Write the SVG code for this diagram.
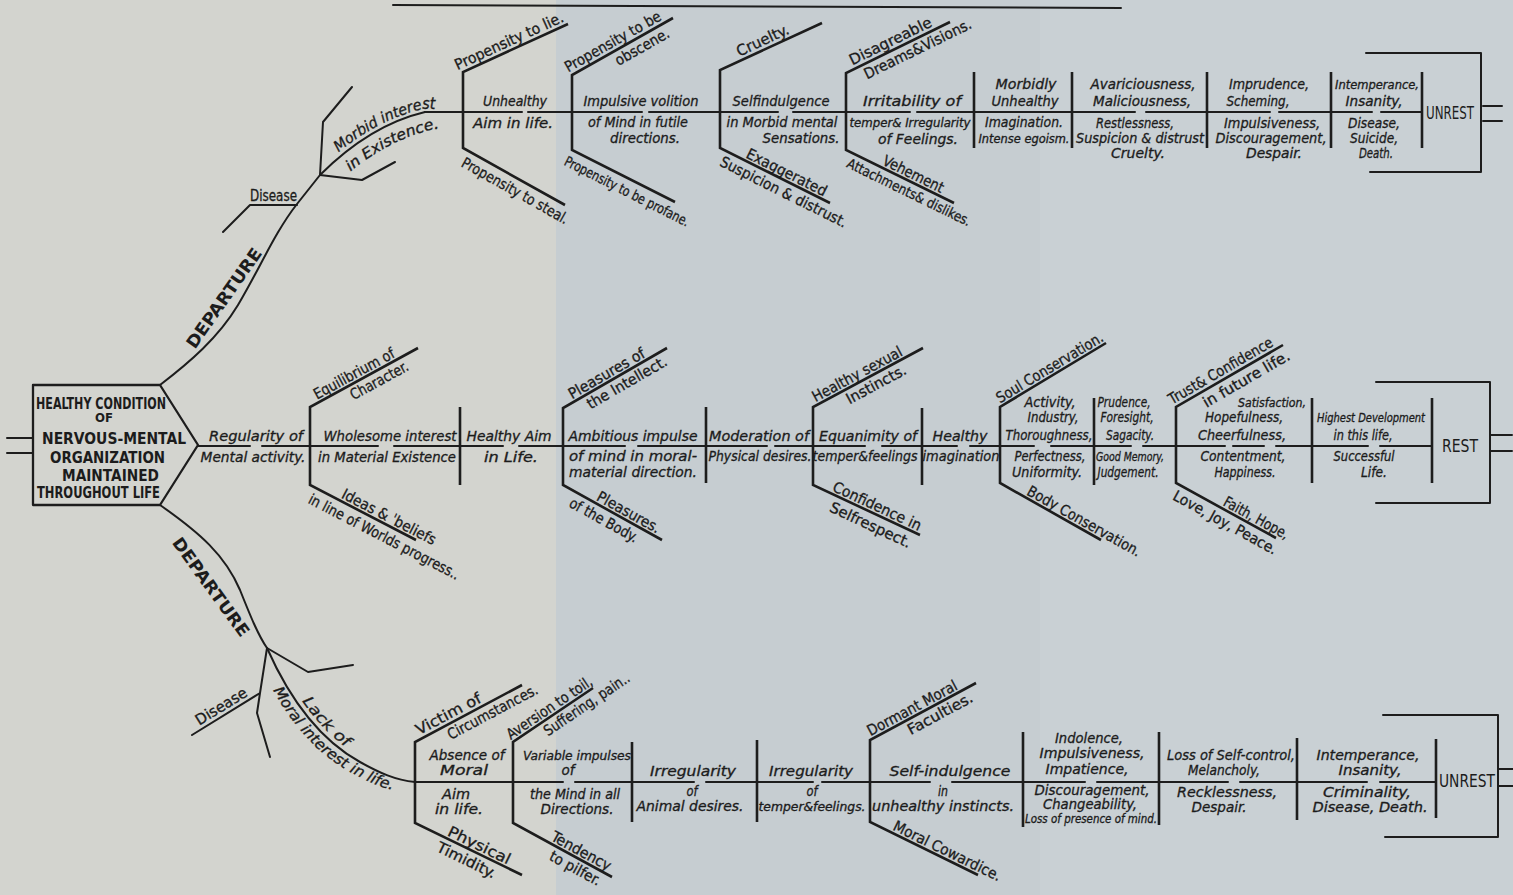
<svg xmlns="http://www.w3.org/2000/svg" width="1513" height="895" viewBox="0 0 1513 895">
<defs>
<style>
.ln{fill:none;stroke:#1d1d1d;stroke-width:2;stroke-linecap:round;stroke-linejoin:round}
.br{fill:none;stroke:#1d1d1d;stroke-width:2.6}
.t{font-family:"Liberation Sans Narrow","DejaVu Sans Condensed","Liberation Sans",Arial,sans-serif;fill:#1c1c1c;stroke:#1c1c1c;stroke-width:0.3}
.it{font-style:italic;font-size:14px}
.dg{font-size:15px}
.sm{font-size:12px}
.c{text-anchor:middle}
.bd{font-weight:bold}
</style>
<path id="pMorbidA" d="M320,169 Q368,122 423,109 L470,109"/>
<path id="pMorbidB" d="M331,189 Q379,142 434,129 L485,129"/>
<path id="pLackA" d="M271,645 C294,697 324,737 364,759 C384,770 399,777 419,779"/>
<path id="pLackB" d="M257,658 C280,710 310,750 350,772 C370,783 385,790 405,792"/>
</defs>
<rect width="1513" height="895" fill="#c6cdd1"/>
<rect x="1040" width="473" height="895" fill="#c9d0d4"/>
<rect width="556" height="895" fill="#d3d4cf"/>

<g id="connectors">
<path class="ln" d="M393,5 L1121,8"/>
<path class="ln" d="M7,438 L33,438 M7,453 L33,453"/>
<path class="ln" d="M160,385 C190,362 218,338 238,305 C260,268 275,232 297,204 L320,175"/>
<path class="ln" d="M320,175 L323,122 L352,87 M320,175 L362,180 L395,162 M297,205 L250,205 L223,232"/>
<path class="ln" d="M320,175 Q370,125 425,112"/>
<path class="ln" d="M160,505 C200,533 225,555 240,590 C250,615 258,635 267,648"/>
<path class="ln" d="M267,648 L308,672 L353,665 M267,648 L260,693 L257,713 L270,757 M260,693 L192,735"/>
<path class="ln" d="M267,648 C290,700 320,740 360,762 C380,773 395,780 415,782"/>
<path class="ln" d="M425,112 L522,112 M528,112 L642,112 M649,112 L778,112 M793,112 L910,112 M917,112 L1135,112 M1146,112 L1270,112 M1279,112 L1372,112 M1381,112 L1422,112"/>
<path class="ln" d="M198,446 L250,446 M262,446 L378,446 M394,446 L503,446 M519,446 L625,446 M638,446 L767,446 M775,446 L865,446 M882,446 L957,446 M970,446 L1034,446 M1051,446 L1131,446 M1143,446 L1225,446 M1233,446 L1264,446 M1276,446 L1368,446 M1380,446 L1432,446"/>
<path class="ln" d="M415,782 L563,782 M575,782 L694,782 M706,782 L813,782 M822,782 L930,782 M952,782 L1085,782 M1097,782 L1228,782 M1240,782 L1367,782 M1380,782 L1436,782"/>
<path class="br" d="M568,24 L463,72 L463,148 L565,205 M673,18 L572,75 L572,150 L675,202 M822,23 L720,70 L720,148 L830,203 M950,22 L846,73 L846,150 L954,203"/>
<path class="br" d="M418,348 L310,407 L310,485 L416,540 M667,348 L563,408 L563,485 L662,540 M923,348 L813,407 L813,485 L920,535 M1106,343 L1000,407 L1000,483 L1101,540 M1283,345 L1176,407 L1176,483 L1276,538"/>
<path class="br" d="M522,685 L415,742 L415,823 L522,875 M593,688 L513,742 L513,823 L612,877 M976,683 L870,740 L870,822 L978,875"/>
<path class="br" d="M974,72 L974,148 M1072,72 L1072,148 M1207,72 L1207,148 M1331,72 L1331,148 M1422,72 L1422,148"/>
<path class="br" d="M460,407 L460,485 M706,407 L706,483 M922,408 L922,485 M1094,398 L1094,485 M1312,398 L1312,483 M1432,398 L1432,483"/>
<path class="br" d="M632,742 L632,822 M757,740 L757,822 M1023,732 L1023,827 M1159,732 L1159,825 M1297,738 L1297,820 M1436,739 L1436,818"/>
<path class="ln" d="M1366,53 L1481,53 L1481,172 L1370,172 M1483,106 L1502,106 M1483,121 L1502,121"/>
<path class="ln" d="M1376,382 L1490,382 L1490,503 L1376,503 M1490,435 L1512,435 M1490,451 L1512,451"/>
<path class="ln" d="M1383,715 L1498,715 L1498,837 L1385,837 M1498,769 L1513,769 M1498,786 L1513,786"/>
</g>

<g id="origin">
<path class="ln" d="M33,385 L160,385 L198,445 L160,505 L33,505 Z" style="stroke-width:2.3"/>
<g class="t bd" style="font-size:15px;stroke-width:0">
<text x="36" y="409" textLength="130" lengthAdjust="spacingAndGlyphs">HEALTHY CONDITION</text>
<text x="104" y="422" class="c" style="font-size:12px" textLength="18" lengthAdjust="spacingAndGlyphs">OF</text>
<text x="42" y="444" textLength="144" lengthAdjust="spacingAndGlyphs">NERVOUS-MENTAL</text>
<text x="50" y="463" textLength="115" lengthAdjust="spacingAndGlyphs">ORGANIZATION</text>
<text x="62" y="481" textLength="97" lengthAdjust="spacingAndGlyphs">MAINTAINED</text>
<text x="37" y="498" textLength="123" lengthAdjust="spacingAndGlyphs">THROUGHOUT LIFE</text>
</g>
</g>

<g id="departure-labels" class="t bd c" style="font-size:17px;stroke-width:0">
<g transform="translate(224,298) rotate(-55)"><text y="6" textLength="118" lengthAdjust="spacingAndGlyphs">DEPARTURE</text></g>
<g transform="translate(211,587) rotate(54)"><text y="6" textLength="118" lengthAdjust="spacingAndGlyphs">DEPARTURE</text></g>
</g>

<g id="disease-labels" class="t dg c">
<text x="273.5" y="201" textLength="47" lengthAdjust="spacingAndGlyphs">Disease</text>
<g transform="translate(226,714) rotate(-31.7)"><text y="-4" textLength="58" lengthAdjust="spacingAndGlyphs">Disease</text></g>
</g>

<g id="curve-labels" class="t" style="font-style:italic;font-size:15px">
<text><textPath href="#pMorbidA" startOffset="25" textLength="108" lengthAdjust="spacingAndGlyphs">Morbid interest</textPath></text>
<text><textPath href="#pMorbidB" startOffset="26" textLength="100" lengthAdjust="spacingAndGlyphs">in Existence.</textPath></text>
<text><textPath href="#pLackA" startOffset="64" textLength="64" lengthAdjust="spacingAndGlyphs">Lack of</textPath></text>
<text><textPath href="#pLackB" startOffset="36" textLength="160" lengthAdjust="spacingAndGlyphs">Moral interest in life.</textPath></text>
</g>

<!-- TOP ROW -->
<g id="top-forks" class="t dg c">
<g transform="translate(515.5,48) rotate(-24.6)"><text x="-3" y="-4" textLength="118" lengthAdjust="spacingAndGlyphs">Propensity to lie.</text></g>
<g transform="translate(514,176.5) rotate(29.2)"><text x="8" y="17" textLength="120" lengthAdjust="spacingAndGlyphs">Propensity to steal.</text></g>
<g transform="translate(622.5,46.5) rotate(-29.4)"><text x="-6" y="-4" textLength="108" lengthAdjust="spacingAndGlyphs">Propensity to be</text><text x="17" y="15" textLength="60" lengthAdjust="spacingAndGlyphs">obscene.</text></g>
<g transform="translate(623.5,176) rotate(26.8)"><text x="10" y="17" style="font-size:14px" textLength="138" lengthAdjust="spacingAndGlyphs">Propensity to be profane.</text></g>
<g transform="translate(771,46.5) rotate(-24.7)"><text x="-5" y="-4" textLength="56" lengthAdjust="spacingAndGlyphs">Cruelty.</text></g>
<g transform="translate(775,175.5) rotate(26.6)"><text x="9" y="-3" textLength="88" lengthAdjust="spacingAndGlyphs">Exaggerated</text><text x="15" y="16" textLength="140" lengthAdjust="spacingAndGlyphs">Suspicion &amp; distrust.</text></g>
<g transform="translate(898,47.5) rotate(-26.1)"><text x="-4" y="-4" textLength="90" lengthAdjust="spacingAndGlyphs">Disagreable</text><text x="17" y="15" textLength="118" lengthAdjust="spacingAndGlyphs">Dreams&amp;Visions.</text></g>
<g transform="translate(900,176.5) rotate(26.1)"><text x="11" y="-3" textLength="66" lengthAdjust="spacingAndGlyphs">Vehement</text><text x="15" y="15" style="font-size:14px" textLength="136" lengthAdjust="spacingAndGlyphs">Attachments&amp; dislikes.</text></g>
</g>

<g id="top-s1" class="t it c">
<text x="515" y="106" textLength="64" lengthAdjust="spacingAndGlyphs">Unhealthy</text>
<text x="513" y="128" textLength="80" lengthAdjust="spacingAndGlyphs">Aim  in life.</text>
</g>
<g id="top-s2" class="t it c">
<text x="641" y="106" textLength="115" lengthAdjust="spacingAndGlyphs">Impulsive volition</text>
<text x="638" y="127" textLength="100" lengthAdjust="spacingAndGlyphs">of Mind in futile</text>
<text x="645" y="143" textLength="70" lengthAdjust="spacingAndGlyphs">directions.</text>
</g>
<g id="top-s3" class="t it c">
<text x="781" y="106" textLength="97" lengthAdjust="spacingAndGlyphs">Selfindulgence</text>
<text x="782" y="127" textLength="111" lengthAdjust="spacingAndGlyphs">in Morbid mental</text>
<text x="801" y="143" textLength="77" lengthAdjust="spacingAndGlyphs">Sensations.</text>
</g>
<g id="top-s4" class="t it c">
<text x="912" y="106" textLength="98" lengthAdjust="spacingAndGlyphs">Irritability of</text>
<text x="910" y="127" class="sm" textLength="121" lengthAdjust="spacingAndGlyphs">temper&amp; Irregularity</text>
<text x="918" y="144" textLength="80" lengthAdjust="spacingAndGlyphs">of Feelings.</text>
</g>
<g id="top-s5" class="t it c">
<text x="1026" y="89" textLength="61" lengthAdjust="spacingAndGlyphs">Morbidly</text>
<text x="1025" y="106" textLength="67" lengthAdjust="spacingAndGlyphs">Unhealthy</text>
<text x="1024" y="127" textLength="78" lengthAdjust="spacingAndGlyphs">Imagination.</text>
<text x="1024" y="143" class="sm" textLength="91" lengthAdjust="spacingAndGlyphs">Intense egoism.</text>
</g>
<g id="top-s6" class="t it c">
<text x="1143" y="89" textLength="105" lengthAdjust="spacingAndGlyphs">Avariciousness,</text>
<text x="1142" y="106" textLength="98" lengthAdjust="spacingAndGlyphs">Maliciousness,</text>
<text x="1135" y="128" textLength="78" lengthAdjust="spacingAndGlyphs">Restlessness,</text>
<text x="1140" y="143" textLength="128" lengthAdjust="spacingAndGlyphs">Suspicion &amp; distrust</text>
<text x="1138" y="158" textLength="54" lengthAdjust="spacingAndGlyphs">Cruelty.</text>
</g>
<g id="top-s7" class="t it c">
<text x="1269" y="89" textLength="80" lengthAdjust="spacingAndGlyphs">Imprudence,</text>
<text x="1258" y="106" textLength="63" lengthAdjust="spacingAndGlyphs">Scheming,</text>
<text x="1272" y="128" textLength="96" lengthAdjust="spacingAndGlyphs">Impulsiveness,</text>
<text x="1271" y="143" textLength="111" lengthAdjust="spacingAndGlyphs">Discouragement,</text>
<text x="1274" y="158" textLength="56" lengthAdjust="spacingAndGlyphs">Despair.</text>
</g>
<g id="top-s8" class="t it c">
<text x="1377" y="89" class="sm" textLength="84" lengthAdjust="spacingAndGlyphs">Intemperance,</text>
<text x="1374" y="106" textLength="57" lengthAdjust="spacingAndGlyphs">Insanity,</text>
<text x="1374" y="128" textLength="52" lengthAdjust="spacingAndGlyphs">Disease,</text>
<text x="1374" y="143" textLength="48" lengthAdjust="spacingAndGlyphs">Suicide,</text>
<text x="1376" y="158" textLength="34" lengthAdjust="spacingAndGlyphs">Death.</text>
</g>
<g id="top-unrest" class="t" style="stroke-width:0"><text x="1426" y="119" style="font-size:17px" textLength="48" lengthAdjust="spacingAndGlyphs">UNREST</text></g>

<!-- MIDDLE ROW -->
<g id="mid-forks" class="t dg c">
<g transform="translate(364,377.5) rotate(-28.6)"><text x="-7" y="-3" textLength="90" lengthAdjust="spacingAndGlyphs">Equilibrium of</text><text x="12" y="15" textLength="64" lengthAdjust="spacingAndGlyphs">Character.</text></g>
<g transform="translate(363,512.5) rotate(27.4)"><text x="25" y="-3" textLength="104" lengthAdjust="spacingAndGlyphs">Ideas &amp; ˈbeliefs</text><text x="30" y="17" textLength="168" lengthAdjust="spacingAndGlyphs">in line of Worlds progress..</text></g>
<g transform="translate(615,378) rotate(-30)"><text x="-5" y="-3" textLength="86" lengthAdjust="spacingAndGlyphs">Pleasures of</text><text x="8" y="15" textLength="90" lengthAdjust="spacingAndGlyphs">the Intellect.</text></g>
<g transform="translate(612.5,512.5) rotate(29)"><text x="14" y="-3" textLength="70" lengthAdjust="spacingAndGlyphs">Pleasures.</text><text x="-4" y="16" textLength="76" lengthAdjust="spacingAndGlyphs">of the Body.</text></g>
<g transform="translate(868,377.5) rotate(-28.2)"><text x="-8" y="-3" textLength="100" lengthAdjust="spacingAndGlyphs">Healthy sexual</text><text x="4" y="15" textLength="66" lengthAdjust="spacingAndGlyphs">Instincts.</text></g>
<g transform="translate(866.5,510) rotate(25)"><text x="8" y="-3" textLength="96" lengthAdjust="spacingAndGlyphs">Confidence in</text><text x="10" y="17" textLength="88" lengthAdjust="spacingAndGlyphs">Selfrespect.</text></g>
<g transform="translate(1053,375) rotate(-31.1)"><text x="1" y="-3" textLength="122" lengthAdjust="spacingAndGlyphs">Soul Conservation.</text></g>
<g transform="translate(1050.5,511.5) rotate(29.4)"><text x="34" y="-3" textLength="128" lengthAdjust="spacingAndGlyphs">Body Conservation.</text></g>
<g transform="translate(1229.5,376) rotate(-30.1)"><text x="-5" y="-4" textLength="118" lengthAdjust="spacingAndGlyphs">Trust&amp; Confidence</text><text x="13" y="16" textLength="98" lengthAdjust="spacingAndGlyphs">in future life.</text></g>
<g transform="translate(1226,510.5) rotate(28.8)"><text x="30" y="-3" textLength="72" lengthAdjust="spacingAndGlyphs">Faith, Hope,</text><text x="5" y="16" textLength="116" lengthAdjust="spacingAndGlyphs">Love, Joy, Peace.</text></g>
</g>

<g id="mid-s0" class="t it c">
<text x="256" y="441" textLength="94" lengthAdjust="spacingAndGlyphs">Regularity of</text>
<text x="253" y="462" textLength="105" lengthAdjust="spacingAndGlyphs">Mental activity.</text>
</g>
<g id="mid-s1" class="t it c">
<text x="390" y="441" textLength="133" lengthAdjust="spacingAndGlyphs">Wholesome interest</text>
<text x="387" y="462" textLength="138" lengthAdjust="spacingAndGlyphs">in Material Existence</text>
</g>
<g id="mid-s2" class="t it c">
<text x="509" y="441" textLength="85" lengthAdjust="spacingAndGlyphs">Healthy Aim</text>
<text x="511" y="462" textLength="54" lengthAdjust="spacingAndGlyphs">in Life.</text>
</g>
<g id="mid-s3" class="t it c">
<text x="633" y="441" textLength="129" lengthAdjust="spacingAndGlyphs">Ambitious impulse</text>
<text x="633" y="461" textLength="128" lengthAdjust="spacingAndGlyphs">of mind in moral-</text>
<text x="633" y="477" textLength="128" lengthAdjust="spacingAndGlyphs">material direction.</text>
</g>
<g id="mid-s4" class="t it c">
<text x="759" y="441" textLength="100" lengthAdjust="spacingAndGlyphs">Moderation of</text>
<text x="760" y="461" textLength="103" lengthAdjust="spacingAndGlyphs">Physical desires.</text>
</g>
<g id="mid-s5" class="t it c">
<text x="868" y="441" textLength="98" lengthAdjust="spacingAndGlyphs">Equanimity of</text>
<text x="865" y="461" textLength="105" lengthAdjust="spacingAndGlyphs">temper&amp;feelings</text>
</g>
<g id="mid-s6" class="t it c">
<text x="960" y="441" textLength="55" lengthAdjust="spacingAndGlyphs">Healthy</text>
<text x="961" y="461" textLength="77" lengthAdjust="spacingAndGlyphs">imagination</text>
</g>
<g id="mid-s7" class="t it c">
<text x="1050" y="407" textLength="51" lengthAdjust="spacingAndGlyphs">Activity,</text>
<text x="1053" y="422" textLength="51" lengthAdjust="spacingAndGlyphs">Industry,</text>
<text x="1049" y="440" textLength="87" lengthAdjust="spacingAndGlyphs">Thoroughness,</text>
<text x="1050" y="461" textLength="71" lengthAdjust="spacingAndGlyphs">Perfectness,</text>
<text x="1047" y="477" textLength="70" lengthAdjust="spacingAndGlyphs">Uniformity.</text>
</g>
<g id="mid-s8" class="t it c">
<text x="1124" y="407" textLength="53" lengthAdjust="spacingAndGlyphs">Prudence,</text>
<text x="1127" y="422" textLength="53" lengthAdjust="spacingAndGlyphs">Foresight,</text>
<text x="1130" y="440" textLength="48" lengthAdjust="spacingAndGlyphs">Sagacity.</text>
<text x="1130" y="461" class="sm" textLength="68" lengthAdjust="spacingAndGlyphs">Good Memory,</text>
<text x="1128" y="477" textLength="61" lengthAdjust="spacingAndGlyphs">Judgement.</text>
</g>
<g id="mid-s9" class="t it c">
<text x="1272" y="407" class="sm" textLength="68" lengthAdjust="spacingAndGlyphs">Satisfaction,</text>
<text x="1244" y="422" textLength="78" lengthAdjust="spacingAndGlyphs">Hopefulness,</text>
<text x="1242" y="440" textLength="88" lengthAdjust="spacingAndGlyphs">Cheerfulness,</text>
<text x="1243" y="461" textLength="85" lengthAdjust="spacingAndGlyphs">Contentment,</text>
<text x="1245" y="477" textLength="61" lengthAdjust="spacingAndGlyphs">Happiness.</text>
</g>
<g id="mid-s10" class="t it c">
<text x="1371" y="422" class="sm" textLength="108" lengthAdjust="spacingAndGlyphs">Highest Development</text>
<text x="1363" y="440" textLength="59" lengthAdjust="spacingAndGlyphs">in this life,</text>
<text x="1364" y="461" textLength="61" lengthAdjust="spacingAndGlyphs">Successful</text>
<text x="1374" y="477" textLength="26" lengthAdjust="spacingAndGlyphs">Life.</text>
</g>
<g id="mid-rest" class="t" style="stroke-width:0"><text x="1442" y="452" style="font-size:18px" textLength="36" lengthAdjust="spacingAndGlyphs">REST</text></g>

<!-- BOTTOM ROW -->
<g id="bot-forks" class="t dg c">
<g transform="translate(468.5,713.5) rotate(-28)"><text x="-18" y="-4" textLength="72" lengthAdjust="spacingAndGlyphs">Victim of</text><text x="22" y="15" textLength="100" lengthAdjust="spacingAndGlyphs">Circumstances.</text></g>
<g transform="translate(468.5,849) rotate(25.9)"><text x="8" y="-3" textLength="68" lengthAdjust="spacingAndGlyphs">Physical</text><text x="3" y="16" textLength="64" lengthAdjust="spacingAndGlyphs">Timidity.</text></g>
<g transform="translate(553,715) rotate(-34)"><text x="1" y="-3" textLength="100" lengthAdjust="spacingAndGlyphs">Aversion to toil,</text><text x="34" y="15" textLength="100" lengthAdjust="spacingAndGlyphs">Suffering, pain..</text></g>
<g transform="translate(562.5,850) rotate(28.6)"><text x="17" y="-3" textLength="66" lengthAdjust="spacingAndGlyphs">Tendency</text><text x="20" y="15" textLength="56" lengthAdjust="spacingAndGlyphs">to pilfer.</text></g>
<g transform="translate(923,711.5) rotate(-28.3)"><text x="-8" y="-3" textLength="100" lengthAdjust="spacingAndGlyphs">Dormant Moral</text><text x="14" y="15" textLength="72" lengthAdjust="spacingAndGlyphs">Faculties.</text></g>
<g transform="translate(924,848.5) rotate(26.1)"><text x="22" y="-3" textLength="118" lengthAdjust="spacingAndGlyphs">Moral Cowardice.</text></g>
</g>

<g id="bot-s1" class="t it c">
<text x="467" y="760" textLength="75" lengthAdjust="spacingAndGlyphs">Absence of</text>
<text x="464" y="775" textLength="48" lengthAdjust="spacingAndGlyphs">Moral</text>
<text x="456" y="799" textLength="28" lengthAdjust="spacingAndGlyphs">Aim</text>
<text x="459" y="814" textLength="48" lengthAdjust="spacingAndGlyphs">in life.</text>
</g>
<g id="bot-s2" class="t it c">
<text x="577" y="760" class="sm" textLength="108" lengthAdjust="spacingAndGlyphs">Variable impulses</text>
<text x="568" y="775" textLength="13" lengthAdjust="spacingAndGlyphs">of</text>
<text x="575" y="799" textLength="90" lengthAdjust="spacingAndGlyphs">the Mind in all</text>
<text x="577" y="814" textLength="73" lengthAdjust="spacingAndGlyphs">Directions.</text>
</g>
<g id="bot-s3" class="t it c">
<text x="693" y="776" textLength="86" lengthAdjust="spacingAndGlyphs">Irregularity</text>
<text x="692" y="796" textLength="11" lengthAdjust="spacingAndGlyphs">of</text>
<text x="690" y="811" textLength="107" lengthAdjust="spacingAndGlyphs">Animal desires.</text>
</g>
<g id="bot-s4" class="t it c">
<text x="811" y="776" textLength="84" lengthAdjust="spacingAndGlyphs">Irregularity</text>
<text x="812" y="796" textLength="11" lengthAdjust="spacingAndGlyphs">of</text>
<text x="812" y="811" class="sm" textLength="107" lengthAdjust="spacingAndGlyphs">temper&amp;feelings.</text>
</g>
<g id="bot-s5" class="t it c">
<text x="950" y="776" textLength="121" lengthAdjust="spacingAndGlyphs">Self-indulgence</text>
<text x="943" y="796" textLength="10" lengthAdjust="spacingAndGlyphs">in</text>
<text x="943" y="811" textLength="142" lengthAdjust="spacingAndGlyphs">unhealthy instincts.</text>
</g>
<g id="bot-s6" class="t it c">
<text x="1089" y="743" textLength="68" lengthAdjust="spacingAndGlyphs">Indolence,</text>
<text x="1092" y="758" textLength="105" lengthAdjust="spacingAndGlyphs">Impulsiveness,</text>
<text x="1087" y="774" textLength="83" lengthAdjust="spacingAndGlyphs">Impatience,</text>
<text x="1092" y="795" textLength="115" lengthAdjust="spacingAndGlyphs">Discouragement,</text>
<text x="1090" y="809" textLength="94" lengthAdjust="spacingAndGlyphs">Changeability,</text>
<text x="1091" y="823" class="sm" textLength="132" lengthAdjust="spacingAndGlyphs">Loss of presence of mind.</text>
</g>
<g id="bot-s7" class="t it c">
<text x="1231" y="760" textLength="128" lengthAdjust="spacingAndGlyphs">Loss of Self-control,</text>
<text x="1224" y="775" textLength="72" lengthAdjust="spacingAndGlyphs">Melancholy,</text>
<text x="1227" y="797" textLength="100" lengthAdjust="spacingAndGlyphs">Recklessness,</text>
<text x="1219" y="812" textLength="55" lengthAdjust="spacingAndGlyphs">Despair.</text>
</g>
<g id="bot-s8" class="t it c">
<text x="1368" y="760" textLength="103" lengthAdjust="spacingAndGlyphs">Intemperance,</text>
<text x="1370" y="775" textLength="63" lengthAdjust="spacingAndGlyphs">Insanity,</text>
<text x="1367" y="797" textLength="88" lengthAdjust="spacingAndGlyphs">Criminality,</text>
<text x="1370" y="812" textLength="115" lengthAdjust="spacingAndGlyphs">Disease, Death.</text>
</g>
<g id="bot-unrest" class="t" style="stroke-width:0"><text x="1439" y="787" style="font-size:17px" textLength="56" lengthAdjust="spacingAndGlyphs">UNREST</text></g>
</svg>
